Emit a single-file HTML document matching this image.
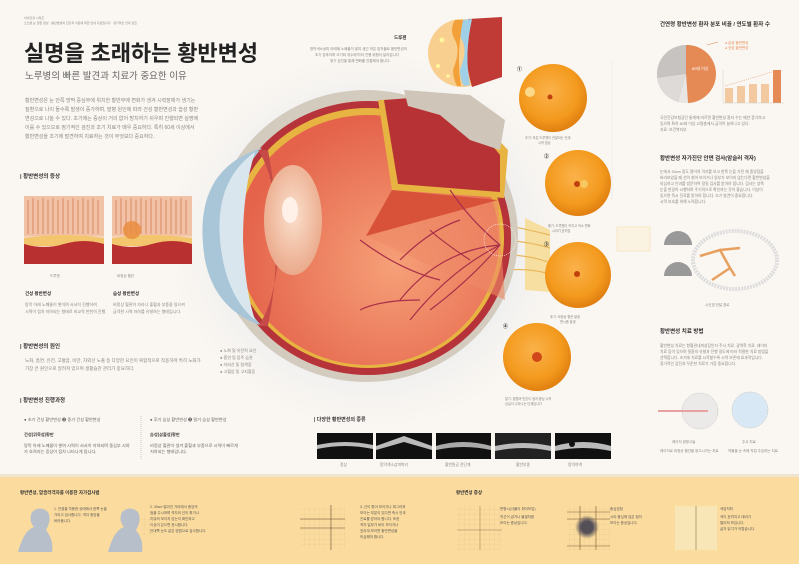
<!DOCTYPE html>
<html><head><meta charset="utf-8"><style>
html,body{margin:0;padding:0;background:#faf6f1}
svg{display:block}
text{font-family:"Liberation Sans","Noto Sans CJK KR",sans-serif}
.t{font-size:5px;fill:#8a8580}
.h{font-size:7px;font-weight:bold;fill:#333}
</style></head><body>
<svg width="799" height="564" viewBox="0 0 799 564" xmlns="http://www.w3.org/2000/svg">
<defs>
<radialGradient id="bgGlow" cx="0.5" cy="0.5" r="0.5"><stop offset="0.6" stop-color="#e9ecef"/><stop offset="1" stop-color="#faf6f1" stop-opacity="0"/></radialGradient>
<radialGradient id="fund" cx="0.45" cy="0.4" r="0.6"><stop offset="0" stop-color="#fbb24a"/><stop offset="0.7" stop-color="#f39a1e"/><stop offset="1" stop-color="#e07f10"/></radialGradient>
<radialGradient id="vit" cx="0.6" cy="0.6" r="0.6"><stop offset="0" stop-color="#f6a078"/><stop offset="1" stop-color="#e4634a"/></radialGradient>
<radialGradient id="lens" cx="0.5" cy="0.45" r="0.6"><stop offset="0" stop-color="#fbe0cc"/><stop offset="1" stop-color="#e9a586"/></radialGradient>
<radialGradient id="dot" cx="0.5" cy="0.5" r="0.5"><stop offset="0.5" stop-color="#555058"/><stop offset="1" stop-color="#555058" stop-opacity="0"/></radialGradient>
<pattern id="grid" width="5" height="5" patternUnits="userSpaceOnUse"><path d="M5 0V5H0" fill="none" stroke="#e2c890" stroke-width="0.5"/></pattern>
</defs>
<rect width="799" height="564" fill="#faf6f1"/>
<ellipse cx="370" cy="240" rx="215" ry="200" fill="url(#bgGlow)"/>

<!-- header -->
<text x="24" y="19" class="t" style="font-size:3px">아이건강 시리즈</text>
<text x="24" y="24" class="t" style="font-size:3px">노인성 눈 질환 정보 · 황반변성의 진단과 치료에 대한 안내 자료입니다 · 정기적인 안과 검진</text>
<text x="24" y="61" font-size="22" font-weight="bold" fill="#222" textLength="234">실명을 초래하는 황반변성</text>
<text x="25" y="79" font-size="9.5" fill="#666">노루병의 빠른 발견과 치료가 중요한 이유</text>
<g class="t" style="font-size:5px;fill:#888">
<text x="25" y="102">황반변성은 눈 안쪽 망막 중심부에 위치한 황반부에 변화가 생겨 시력장애가 생기는</text>
<text x="25" y="111">질환으로 나이 들수록 발생이 증가하며, 발병 원인에 따라 건성 황반변성과 습성 황반</text>
<text x="25" y="120">변성으로 나눌 수 있다. 초기에는 증상이 거의 없어 방치하기 쉬우며 진행되면 실명에</text>
<text x="25" y="129">이를 수 있으므로 정기적인 검진과 조기 치료가 매우 중요하다. 특히 60세 이상에서</text>
<text x="25" y="138">황반변성을 조기에 발견하여 치료하는 것이 무엇보다 중요하다.</text>
</g>

<!-- symptoms section -->
<text x="20" y="178" class="h" style="font-size:5.5px">| 황반변성의 증상</text>
<g>
<rect x="24" y="196" width="80" height="68" fill="#f6d4c0"/>
<rect x="24" y="196" width="80" height="40" fill="#f2c2a6"/>
<g stroke="#d98a66" stroke-width="1">
<path d="M28 200v34M33 198v36M38 200v34M43 198v36M48 200v34M53 198v36M58 200v34M63 198v36M68 200v34M73 198v36M78 200v34M83 198v36M88 200v34M93 198v36M98 200v34"/></g>
<path d="M24 238q40 -6 80 0v8h-80z" fill="#f3c56c"/>
<path d="M24 244q20 6 40 0t40 0v20h-80z" fill="#b83030"/>
<rect x="112" y="196" width="80" height="68" fill="#f6d4c0"/>
<rect x="112" y="196" width="80" height="40" fill="#f2c2a6"/>
<g stroke="#d98a66" stroke-width="1">
<path d="M116 200v34M121 198v36M126 200v34M131 198v36M136 200v34M141 198v36M146 200v34M151 198v36M156 200v34M161 198v36M166 200v34M171 198v36M176 200v34M181 198v36M186 200v34"/></g>
<path d="M112 238q40 -6 80 0v8h-80z" fill="#f3c56c"/>
<circle cx="132" cy="230" r="9" fill="#e98a3a" opacity="0.8"/>
<path d="M112 244q20 6 40 0t40 0v20h-80z" fill="#b83030"/>
</g>
<text x="50" y="277" class="t" style="font-size:3.5px">드루젠</text>
<text x="117" y="277" class="t" style="font-size:3.5px">비정상 혈관</text>
<text x="25" y="295" class="h" style="font-size:4.5px">건성 황반변성</text>
<text x="113" y="295" class="h" style="font-size:4.5px">습성 황반변성</text>
<text x="25" y="306" class="t" style="font-size:4px">망막 아래 노폐물이 쌓이며 서서히 진행하여</text>
<text x="25" y="313" class="t" style="font-size:4px">시력이 점차 저하되는 형태로 비교적 천천히 진행.</text>
<text x="113" y="306" class="t" style="font-size:4px">비정상 혈관이 자라나 출혈과 부종을 일으켜</text>
<text x="113" y="313" class="t" style="font-size:4px">급격한 시력 저하를 유발하는 형태입니다.</text>

<text x="20" y="348" class="h" style="font-size:5.5px">| 황반변성의 원인</text>
<text x="25" y="362" class="t" style="font-size:4.5px">노화, 흡연, 유전, 고혈압, 비만, 자외선 노출 등 다양한 요인이 복합적으로 작용하며 특히 노화가</text>
<text x="25" y="370" class="t" style="font-size:4.5px">가장 큰 원인으로 알려져 있으며 생활습관 관리가 중요하다.</text>
<g class="t" style="font-size:4px">
<text x="220" y="352">● 노화 및 유전적 요인</text><text x="220" y="359">● 흡연 및 음주 습관</text>
<text x="220" y="366">● 자외선 및 청색광</text><text x="220" y="373">● 고혈압 및 고지혈증</text></g>

<text x="20" y="402" class="h" style="font-size:5.5px">| 황반변성 진행과정</text>
<g class="t" style="font-size:4.2px;fill:#666">
<text x="24" y="421">● 초기 건성 황반변성  ❷ 중기 건성 황반변성</text>
<text x="150" y="421">● 후기 습성 황반변성  ❷ 말기 습성 황반변성</text>
<text x="24" y="436" style="font-weight:bold;fill:#444">건성(위축성)황반</text>
<text x="150" y="436" style="font-weight:bold;fill:#444">습성(삼출성)황반</text>
<text x="24" y="447">망막 아래 노폐물이 쌓여 시력이 서서히 저하되며 중심부 시야</text>
<text x="24" y="453">가 흐려지는 증상이 점차 나타나게 됩니다.</text>
<text x="150" y="447">비정상 혈관이 생겨 출혈과 부종으로 시력이 빠르게</text>
<text x="150" y="453">저하되는 형태입니다.</text></g>
<line x1="141" y1="416" x2="141" y2="460" stroke="#999" stroke-width="0.5" stroke-dasharray="1,1"/>

<!-- OCT -->
<text x="314" y="421" class="h" style="font-size:5px">| 다양한 황반변성의 종류</text>
<g>
<rect x="317" y="433" width="56" height="26" fill="#111"/><path d="M317 445q28 -6 56 0v4q-28 -6 -56 0z" fill="#bbb"/>
<rect x="376" y="433" width="56" height="26" fill="#111"/><path d="M376 446l28 -10l28 10v4l-28 -8l-28 8z" fill="#bbb"/>
<rect x="436" y="433" width="55" height="26" fill="#111"/><path d="M436 446q27 -8 55 0v4q-27 -6 -55 0z" fill="#aaa"/>
<rect x="495" y="433" width="56" height="26" fill="#222"/><path d="M495 446q28 -6 56 0v5q-28 -6 -56 0z" fill="#bbb"/>
<rect x="555" y="433" width="56" height="26" fill="#111"/><path d="M555 446q28 -8 56 0v5q-28 -6 -56 0z" fill="#bbb"/><circle cx="572" cy="444" r="3" fill="#111"/>
</g>
<g class="t" style="font-size:3.8px">
<text x="340" y="466">정상</text><text x="380" y="466">망막색소상피박리</text><text x="445" y="466">황반원공 전단계</text><text x="516" y="466">황반부종</text><text x="568" y="466">망막하액</text></g>

<!-- drusen zoom -->
<text x="394" y="39" class="h" style="font-size:4.5px">드루젠</text>
<text x="310" y="50" class="t" style="font-size:3.5px">망막색소상피 아래에 노폐물이 쌓여 생긴 작은 침착물로 황반변성의</text>
<text x="315" y="56" class="t" style="font-size:3.5px">초기 징후이며 크기와 개수에 따라 진행 위험이 달라집니다</text>
<text x="330" y="62" class="t" style="font-size:3.5px">정기 검진을 통해 변화를 관찰해야 합니다.</text>
<circle cx="462" cy="53" r="34" fill="#f8cf8e"/>
<path d="M468 19q-6 34 4 68l30 -10l0 -60z" fill="#c03a36"/>
<path d="M462 20q-6 10 0 20t-2 30q0 10 4 16l6 -1q-6 -30 2 -66z" fill="#9fd0e8"/>
<path d="M455 20q-6 10 0 20t-2 30q0 8 4 16l4 0q-5 -30 2 -66z" fill="#f2a03a"/>
<circle cx="442" cy="40" r="2.5" fill="#fff6a0"/><circle cx="438" cy="66" r="2" fill="#fff6a0"/><circle cx="448" cy="76" r="1.8" fill="#fff6a0"/>

<!-- eye -->
<g>
<path d="M525 218 L550 230 L550 292 L525 290 Z" fill="#f7dfa2"/>
<path d="M505 225 q25 5 45 10 M505 240 q25 2 45 8 M505 255 q25 0 45 8 M505 270 q25 -2 45 4" stroke="#e8b860" stroke-width="1.2" fill="none"/>
<ellipse cx="366" cy="236" rx="152" ry="146" fill="#d4cbbf"/>
<ellipse cx="368" cy="238" rx="143" ry="137" fill="#b7333a"/>
<ellipse cx="368" cy="238" rx="136" ry="130" fill="#e8b441"/>
<ellipse cx="368" cy="240" rx="131" ry="125" fill="url(#vit)"/>
<path d="M378 100 L392 190 L504 198 L508 150 L470 110 L430 98 Z" fill="#e8b441"/>
<path d="M384 100 L398 184 L500 192 L500 155 L470 118 L432 105 L410 98 Z" fill="#b73235"/>
<path d="M404 90 L408 106 L440 115 L470 140 L500 150 L505 120 L470 95 Z" fill="#cfc5b8"/>
<path d="M366 236 L392 190 L498 200 Z" fill="#d8523a"/>
<path d="M366 236 L498 200 L505 300 Z" fill="#ee8a68" opacity="0.6"/>
<g stroke="#a8304a" stroke-width="1.2" fill="none">
<path d="M500 245 Q440 250 400 300 M500 245 Q450 270 410 320 M500 245 Q470 220 450 190 M500 245 Q470 280 430 310 M470 260 Q440 240 430 230 M440 280 Q400 270 360 240 M420 300 Q380 300 360 310 M460 220 Q430 230 400 260"/>
</g>
<circle cx="500" cy="240" r="16" fill="none" stroke="#fff" stroke-width="0.6" stroke-dasharray="1,1"/>
<path d="M262 148 Q190 170 205 260 Q215 310 262 326 Q235 300 232 240 Q232 180 262 148Z" fill="#a9c6d8"/>
<path d="M255 152 Q215 180 220 240 Q225 295 255 320 Q245 290 243 240 Q243 190 255 152Z" fill="#d9e6ee"/>
<path d="M258 150 Q275 175 280 240 Q275 305 258 326 L268 326 Q285 240 268 150Z" fill="#c64a48"/>
<ellipse cx="293" cy="220" rx="29" ry="55" fill="url(#lens)"/>
<ellipse cx="290" cy="210" rx="8" ry="13" fill="#fff1e8"/>
</g>

<!-- fundus images -->
<g>
<circle cx="553" cy="98" r="34" fill="url(#fund)"/><circle cx="550" cy="97" r="2.5" fill="#c0410e"/><circle cx="530" cy="92" r="5" fill="#fbd88a"/>
<circle cx="578" cy="183" r="33" fill="url(#fund)"/><circle cx="577" cy="184" r="3" fill="#c0410e"/><circle cx="584" cy="184" r="4" fill="#f8c860"/>
<circle cx="578" cy="275" r="33" fill="url(#fund)"/><circle cx="577" cy="274" r="3" fill="#c0410e"/>
<circle cx="537" cy="357" r="34" fill="url(#fund)"/><circle cx="537" cy="357" r="5" fill="#d0481a"/>
</g>
<g class="t" style="font-size:5px;fill:#111;font-weight:bold"><text x="517" y="71">①</text><text x="544" y="158">②</text><text x="544" y="246">③</text><text x="503" y="328">④</text></g>
<g class="t" style="font-size:3.2px">
<text x="525" y="139">초기: 작은 드루젠이 관찰되는 단계</text><text x="538" y="144">시력 정상</text>
<text x="548" y="227">중기: 드루젠이 커지고 색소 변화</text><text x="552" y="232">시야가 흐려짐</text>
<text x="550" y="318">후기: 비정상 혈관 발생</text><text x="560" y="323">변시증 발생</text>
<text x="505" y="400">말기: 출혈과 반흔이 생겨 중심 시력</text><text x="505" y="405">상실이 나타나는 단계입니다</text>
</g>
<line x1="612" y1="60" x2="612" y2="200" stroke="#ccc" stroke-width="0.4" stroke-dasharray="1,1"/>
<rect x="617" y="227" width="33" height="24" fill="#fbf3e2" stroke="#f0d9a0" stroke-width="0.5"/>

<!-- right column -->
<text x="660" y="26" class="h" style="font-size:5.5px">건연령 황반변성 환자 분포 비율 / 연도별 환자 수</text>
<circle cx="686" cy="74" r="29" fill="#c6c3c0"/>
<path d="M686 74 L686 45 A29 29 0 0 1 688 103 Z" fill="#e58a55"/>
<path d="M686 74 L688 103 A29 29 0 0 1 678 102 Z" fill="#e8e5e2"/>
<path d="M686 74 L678 102 A29 29 0 0 1 657 78 Z" fill="#dddad7"/>
<text x="692" y="70" font-size="4" fill="#fff">60대 이상</text>
<path d="M707 45 L718 42" stroke="#e58a55" stroke-width="0.6"/>
<text x="725" y="44" font-size="3.5" fill="#e58a55">● 습성 황반변성</text><text x="725" y="49" font-size="3.5" fill="#e58a55">● 건성 황반변성</text>
<g fill="#f2c9a0"><rect x="725" y="88" width="8" height="15"/><rect x="737" y="86" width="8" height="17"/><rect x="749" y="84" width="8" height="19"/><rect x="761" y="84" width="8" height="19"/></g>
<rect x="773" y="70" width="8" height="33" fill="#e58a55"/>
<path d="M723 103H784M723 70V103" stroke="#ccc" stroke-width="0.4"/>
<path d="M725 86 L772 72" stroke="#e58a55" stroke-width="0.5" stroke-dasharray="1,1"/>
<g class="t" style="font-size:3.8px"><text x="660" y="119">국민건강보험공단 통계에 따르면 황반변성 환자 수는 매년 증가하고</text><text x="660" y="125">있으며 특히 60대 이상 고령층에서 급격히 늘어나고 있다.</text><text x="660" y="131">자료: 보건복지부</text></g>

<text x="660" y="160" class="h" style="font-size:5.5px">황반변성 자가진단 안면 검사(암슬러 격자)</text>
<g class="t" style="font-size:3.8px"><text x="660" y="173">눈에서 30cm 정도 떨어져 격자를 보고 한쪽 눈을 가린 채 중앙점을</text><text x="660" y="179">바라보았을 때 선이 휘어 보이거나 일부가 보이지 않는다면 황반변성을</text><text x="660" y="185">의심하고 안과를 방문하여 정밀 검사를 받아야 합니다. 검사는 양쪽</text><text x="660" y="191">눈을 번갈아 시행하며 주기적으로 확인하는 것이 좋습니다. 이상이</text><text x="660" y="197">있으면 즉시 진료를 받아야 합니다. 조기 발견이 중요합니다.</text><text x="660" y="203">시력 보호를 위해 노력합니다.</text></g>
<path d="M664 245 A14 14 0 0 1 692 245 Z" fill="#999"/><path d="M664 276 A14 14 0 0 1 692 276 Z" fill="#999"/>
<ellipse cx="735" cy="260" rx="42" ry="29" fill="none" stroke="#ddd" stroke-width="4" stroke-dasharray="2,1"/>
<path d="M700 256 L720 250 L730 268 L735 276 M720 250 L740 248 M730 268 L712 280" stroke="#e8a060" stroke-width="2.5" fill="none"/>
<text x="705" y="306" class="t" style="font-size:3.5px">시신경 전달 경로</text>

<text x="660" y="333" class="h" style="font-size:5.5px">황반변성 치료 방법</text>
<g class="t" style="font-size:3.8px"><text x="660" y="347">황반변성 치료는 항혈관내피성장인자 주사 치료, 광역학 치료, 레이저</text><text x="660" y="353">치료 등이 있으며 질환의 유형과 진행 정도에 따라 적절한 치료 방법을</text><text x="660" y="359">선택합니다. 조기에 치료를 시작할수록 시력 보존에 효과적입니다.</text><text x="660" y="365">정기적인 검진과 꾸준한 치료가 가장 중요합니다.</text></g>
<circle cx="700" cy="411" r="18" fill="#eceae8" stroke="#aaa" stroke-width="0.5" stroke-dasharray="1,1"/>
<path d="M658 411H708" stroke="#e8a0a0" stroke-width="2"/>
<circle cx="750" cy="410" r="18" fill="#d8e8f4" stroke="#aaa" stroke-width="0.5" stroke-dasharray="1,1"/>
<g class="t" style="font-size:3.5px"><text x="672" y="443">레이저 광응고술</text><text x="742" y="443">주사 치료</text>
<text x="660" y="452">레이저로 비정상 혈관을 응고시키는 치료</text><text x="728" y="452">약물을 눈 속에 직접 주입하는 치료</text></g>

<!-- bottom band -->
<rect x="0" y="476" width="799" height="88" fill="#fcdc9e"/>
<rect x="0" y="474" width="799" height="3" fill="#efe4d0"/>
<text x="20" y="494" class="h" style="font-size:4.5px">황반변성, 암슬러격자를 이용한 자가검사법</text>
<text x="456" y="494" class="h" style="font-size:4.5px">황반변성 증상</text>
<g fill="#b7bfca">
<path d="M18 552 Q24 530 34 527 Q28 520 32 512 Q40 505 48 512 Q52 520 46 530 Q54 540 52 552Z"/>
<path d="M108 552 Q114 530 124 527 Q118 520 122 512 Q130 505 138 512 Q142 520 136 530 Q144 540 142 552Z"/>
</g>
<g class="t" style="font-size:3.5px;fill:#555">
<text x="54" y="510">1. 안경을 착용한 상태에서 한쪽 눈을</text><text x="54" y="516">가리고 검사합니다. 격자 중앙을</text><text x="54" y="522">바라봅니다.</text>
<text x="150" y="508">2. 30cm 떨어진 거리에서 중앙의</text><text x="150" y="514">점을 주시하며 격자의 선이 휘거나</text><text x="150" y="520">지워져 보이지 않는지 확인하고</text><text x="150" y="526">이상이 있으면 표시합니다.</text><text x="150" y="532">반대쪽 눈도 같은 방법으로 검사합니다.</text>
<text x="360" y="508">3. 선이 휘어 보이거나 찌그러져</text><text x="360" y="514">보이는 부분이 있다면 즉시 안과</text><text x="360" y="520">진료를 받아야 합니다. 또한</text><text x="360" y="526">격자 일부가 비어 보이거나</text><text x="360" y="532">흐리게 보이면 황반변성을</text><text x="360" y="538">의심해야 합니다.</text>
<text x="500" y="510">변형시(사물이 휘어보임)</text><text x="500" y="518">직선이 굽거나 물결처럼</text><text x="500" y="524">보이는 증상입니다.</text>
<text x="610" y="510">중심암점</text><text x="610" y="518">시야 중심에 검은 점이</text><text x="610" y="524">보이는 증상입니다.</text>
<text x="720" y="510">색감저하</text><text x="720" y="518">색이 흐려지고 대비가</text><text x="720" y="524">떨어져 보입니다.</text><text x="720" y="530">글자 읽기가 어렵습니다.</text>
</g>
<rect x="141" y="515" width="14" height="20" fill="url(#grid)"/>
<rect x="300" y="507" width="45" height="42" fill="url(#grid)"/><path d="M331 505V550M300 519H345M300 528H345" stroke="#6a4a30" stroke-width="0.6"/>
<rect x="457" y="506" width="45" height="44" fill="url(#grid)"/><path d="M480 506V550M457 530H502" stroke="#9a7a50" stroke-width="0.5"/>
<rect x="567" y="506" width="43" height="44" fill="url(#grid)"/><path d="M567 512H610M567 519H610M567 546H610M580 506V550M596 506V550" stroke="#7a5a30" stroke-width="0.6"/>
<ellipse cx="587" cy="527" rx="12" ry="12" fill="url(#dot)"/>
<rect x="675" y="506" width="42" height="44" fill="#f8e6b6"/><path d="M696 506V550" stroke="#7a5a30" stroke-width="0.5"/>
</svg>
</body></html>
